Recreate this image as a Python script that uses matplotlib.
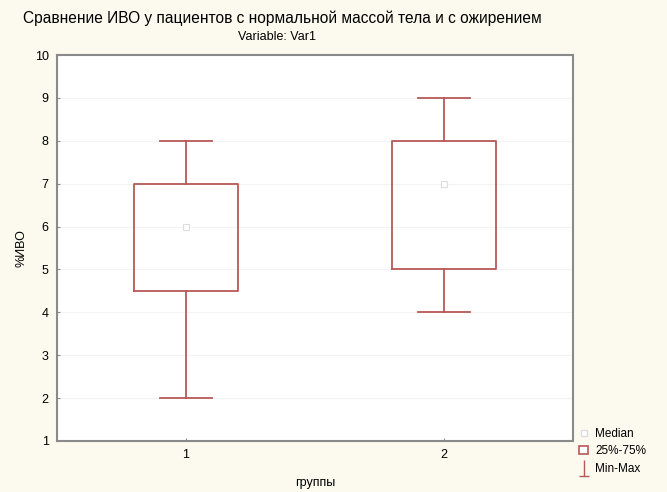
import matplotlib.pyplot as plt
from matplotlib.lines import Line2D
from matplotlib.patches import Patch
from matplotlib.path import Path

plt.rcParams['font.family'] = ['Liberation Sans', 'DejaVu Sans']

groups = [1, 2]
q1 = [4.5, 5.0]
q3 = [7.0, 8.0]
medians = [6.0, 7.0]
mins = [2.0, 4.0]
maxs = [8.0, 9.0]
y_ticks = list(range(1, 11))

bg = '#fcf9ee'
red = '#b85858'
frame = '#8a8a8a'

fig = plt.figure(figsize=(6.67, 4.92), dpi=100, facecolor=bg)
ax = fig.add_axes([0.0855, 0.1037, 0.7735, 0.7843])
ax.set_facecolor('white')

stats = []
for i in range(len(groups)):
    stats.append({'med': medians[i], 'q1': q1[i], 'q3': q3[i],
                  'whislo': mins[i], 'whishi': maxs[i], 'fliers': []})

ax.bxp(stats, positions=groups, widths=0.4, showfliers=False,
       boxprops=dict(color=red, linewidth=1.3),
       whiskerprops=dict(color=red, linewidth=1.3),
       capprops=dict(color=red, linewidth=1.3),
       medianprops=dict(linestyle='none'), capwidths=0.2)
ax.plot(groups, medians, 's', markersize=4, markerfacecolor='white',
        markeredgecolor='#dddddd', markeredgewidth=0.8, linestyle='none')

ax.set_xlim(0.5, 2.5)
ax.set_ylim(1, 10)
ax.set_yticks(y_ticks)
ax.set_xticks(groups)
ax.set_xticklabels([str(g) for g in groups])
for y in y_ticks[1:-1]:
    ax.axhline(y, color='#f3f3f3', linewidth=0.8, zorder=0)

for s in ax.spines.values():
    s.set_color(frame)
    s.set_linewidth(1.5)
ax.tick_params(direction='in', length=2, color=frame, labelsize=9, pad=6)

ax.set_xlabel('группы', fontsize=9, labelpad=11)
ax.set_ylabel('%ИВО', fontsize=9, labelpad=5)

fig.text(0.424, 0.962, 'Сравнение ИВО у пациентов с нормальной массой тела и с ожирением',
         ha='center', va='center', fontsize=11.2)
fig.text(0.416, 0.925, 'Variable: Var1', ha='center', va='center', fontsize=9)

whisk = Path([(0, 1), (0, -1), (-0.7, -1), (0.7, -1)],
             [Path.MOVETO, Path.LINETO, Path.MOVETO, Path.LINETO])
handles = [
    Line2D([], [], marker='s', markersize=4, markerfacecolor='white',
           markeredgecolor='#dddddd', linestyle='none'),
    Patch(facecolor='white', edgecolor=red, linewidth=1.2),
    Line2D([], [], marker=whisk, markersize=11, color=red, linestyle='none'),
]
leg = fig.legend(handles, ['Median', '25%-75%', 'Min-Max'], loc='upper left',
                 bbox_to_anchor=(0.868, 0.13), frameon=False, fontsize=8.5,
                 handlelength=0.8, handletextpad=0.6, labelspacing=0.45,
                 borderaxespad=0, borderpad=0)

fig.savefig('out.png', dpi=100, facecolor=bg)
